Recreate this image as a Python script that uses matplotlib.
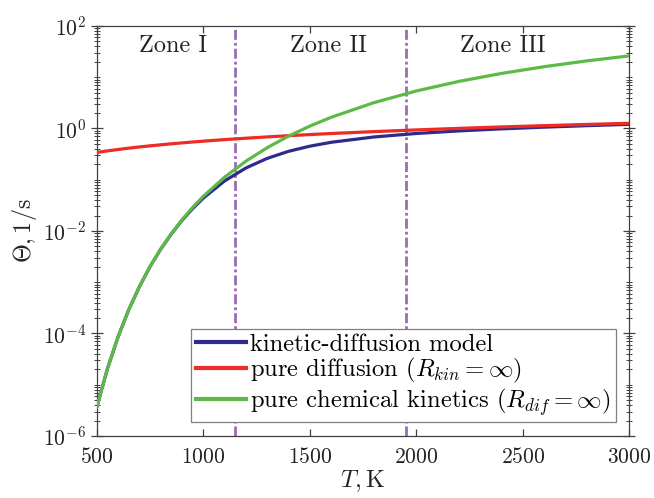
import numpy as np
import matplotlib
matplotlib.use("Agg")
import matplotlib.pyplot as plt
from matplotlib.ticker import LogLocator, NullFormatter, LogFormatterMathtext

# ============================================================
# DATA
# ============================================================
T = [500, 550, 600, 650, 700, 750, 800, 850, 900, 950, 1000, 1100, 1200,
     1300, 1400, 1500, 1600, 1800, 2000, 2200, 2400, 2600, 2800, 3000]

theta_kin_dif = [3.67e-6, 2.05e-5, 8.61e-5, 2.90e-4, 8.17e-4, 2.011e-3,
                 4.40e-3, 8.745e-3, 0.01603, 0.02726, 0.04364, 0.0944,
                 0.1689, 0.260, 0.357, 0.450, 0.536, 0.680, 0.796, 0.894,
                 0.980, 1.058, 1.131, 1.200]

theta_dif = [0.340, 0.3645, 0.388, 0.412, 0.435, 0.457, 0.479, 0.501,
             0.522, 0.543, 0.564, 0.605, 0.644, 0.683, 0.721, 0.758, 0.795,
             0.866, 0.935, 1.003, 1.069, 1.133, 1.196, 1.258]

theta_kin = [3.67e-6, 2.05e-5, 8.61e-5, 2.90e-4, 8.19e-4, 2.02e-3, 4.44e-3,
             8.90e-3, 0.01654, 0.0287, 0.0473, 0.1118, 0.229, 0.420, 0.707,
             1.108, 1.645, 3.17, 5.37, 8.26, 11.81, 15.99, 20.74, 26.0]

zone_bounds = [1150, 1950]
zone_labels = ["Zone I", "Zone II", "Zone III"]
zone_label_x = [700, 1405, 2205]
zone_label_y = 40.0

legend_labels = [
    "kinetic-diffusion model",
    r"pure diffusion ($R_{kin} = \infty$)",
    r"pure chemical kinetics ($R_{dif} = \infty$)",
]

# ============================================================
# STYLE
# ============================================================
plt.rcParams["font.family"] = ["cmr10", "DejaVu Serif"]
plt.rcParams["mathtext.fontset"] = "cm"
plt.rcParams["axes.formatter.use_mathtext"] = True
plt.rcParams["axes.unicode_minus"] = False

C_BLUE = "#2e2b8c"
C_RED = "#ee2b24"
C_GREEN = "#5dba46"
C_PURPLE = "#9b6bb5"
C_AXIS = "#404040"
C_TEXT = "#222222"
LW = 2.3

fig = plt.figure(figsize=(6.54, 4.98), dpi=100)
ax = fig.add_axes([0.148, 0.1245, 0.814, 0.8235])

# later curves sit on top (green over blue at low T, red over blue at high T)
ax.plot(T, theta_kin_dif, color=C_BLUE, lw=LW, label=legend_labels[0], zorder=3)
ax.plot(T, theta_dif, color=C_RED, lw=LW, label=legend_labels[1], zorder=4)
ax.plot(T, theta_kin, color=C_GREEN, lw=LW, label=legend_labels[2], zorder=5)

for xb in zone_bounds:
    ax.axvline(xb, color=C_PURPLE, lw=2.0, linestyle=(0, (3.6, 1.1, 1.0, 1.1)),
               zorder=2)

for lab, xl in zip(zone_labels, zone_label_x):
    ax.text(xl, zone_label_y, lab, fontsize=17.5, ha="left", va="center",
            color=C_TEXT)

ax.set_yscale("log")
ax.set_xlim(500, 3000)
ax.set_ylim(1e-6, 1e2)
ax.set_xticks([500, 1000, 1500, 2000, 2500, 3000])
ax.set_yticks([1e-6, 1e-4, 1e-2, 1e0, 1e2])
ax.yaxis.set_major_formatter(LogFormatterMathtext(base=10.0))
ax.yaxis.set_minor_locator(LogLocator(base=10.0, subs=np.arange(1, 10), numticks=100))
ax.yaxis.set_minor_formatter(NullFormatter())
ax.set_ylim(1e-6, 1e2)

for s in ax.spines.values():
    s.set_color(C_AXIS)
    s.set_linewidth(0.9)

ax.tick_params(axis="x", which="both", direction="in", top=True, length=5,
               width=0.9, color=C_AXIS, labelsize=15.5, pad=8, labelcolor=C_TEXT)
ax.tick_params(axis="y", which="major", direction="inout", right=True, length=9,
               width=0.9, color=C_AXIS, labelsize=15.5, pad=3, labelcolor=C_TEXT)
ax.tick_params(axis="y", which="minor", direction="inout", right=True, length=5,
               width=0.7, color=C_AXIS)

ax.set_xlabel(r"$T, \mathrm{K}$", fontsize=17.5, labelpad=1, color=C_TEXT)
ax.set_ylabel(r"$\Theta, 1/\mathrm{s}$", fontsize=17.5, labelpad=3, color=C_TEXT)

leg = ax.legend(loc="lower right", fontsize=17.7, handlelength=2.05,
                handletextpad=0.15, labelspacing=0.02, borderpad=0.2,
                borderaxespad=0.55, fancybox=False, framealpha=1.0,
                edgecolor="#808080")
leg.get_frame().set_linewidth(0.9)
leg.set_zorder(10)
for line in leg.get_lines():
    line.set_linewidth(3.0)

fig.savefig("out.png", dpi=100)
